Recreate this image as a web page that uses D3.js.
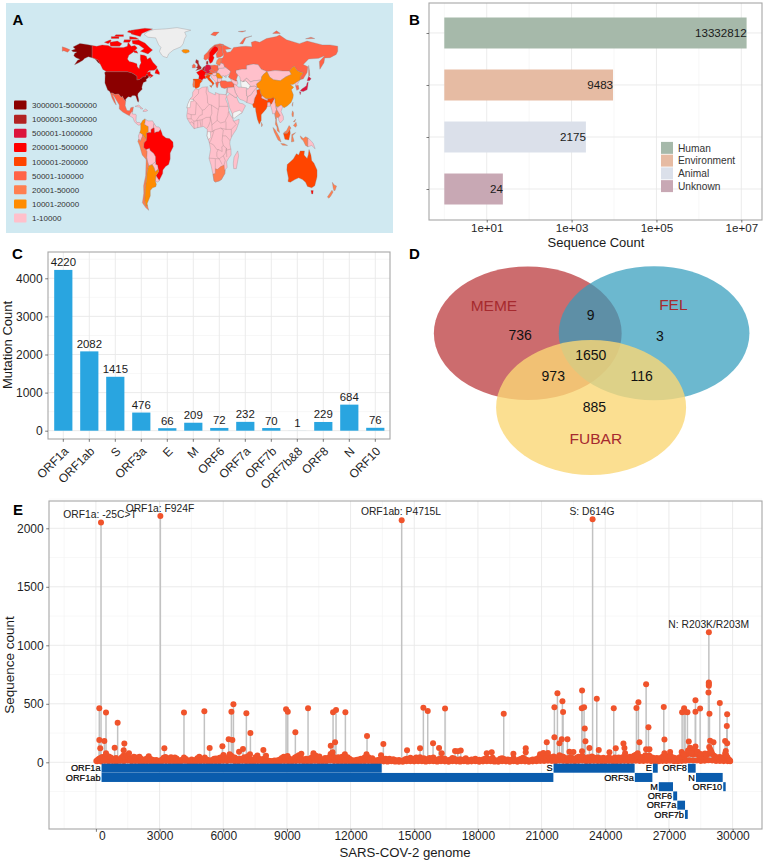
<!DOCTYPE html>
<html><head><meta charset="utf-8">
<script src="https://cdn.jsdelivr.net/npm/d3@7/dist/d3.min.js"></script>
<style>
html,body{margin:0;padding:0;background:#fff}
svg{display:block}
text{font-family:"Liberation Sans",Arial,sans-serif;fill:#1a1a1a}
.domain{display:none}
</style></head><body><svg id="c" width="764" height="861"></svg>
<script>
// ---------- Panel A data ----------
const mapBins = ["3000001-5000000","1000001-3000000","500001-1000000","200001-500000","100001-200000","50001-100000","20001-50000","10001-20000","1-10000"];
const mapColors = ["#8b0000","#b22222","#dc143c","#ff0000","#ff4500","#ff6347","#ff7f50","#ff8c00","#ffc0cb"];
const mapFills = mapColors.concat(["#f4f4f4","#eeeeee"]);
const countries = [
["Greenland",10,"-73,78.2 -68,76 -58,75.5 -54,70 -51,68 -53,65 -50,62 -48,61 -43,60 -41,63 -35,66 -25,68.5 -22,71 -20,75 -18,77 -20,80 -12,81.5 -30,83.5 -45,82.5 -60,82 -68,80.5"],
["Iceland",7,"-24,65.5 -22,64 -18.5,63.4 -14,64.5 -14.5,66 -18,66.4 -22,66.4"],
["Alaska",0,"-141,69.6 -141,60.2 -137,58.9 -133,56 -130,55 -133,58 -137,59.2 -140,59.8 -146,60.8 -151,59.3 -153,58 -158,56.2 -164,54.5 -160,58 -157,58.8 -162,60 -165,61.5 -164,63.2 -161,64.5 -166,64.6 -168,65.6 -163,66.8 -166,68.4 -157,71.2 -148,70.4"],
["Canada",3,"-141,69.6 -135,69 -128,70 -120,69.5 -115,68 -108,68 -100,68 -95,69 -94,72 -90,69 -85,69.5 -82,67.5 -87,64.5 -93,62 -94.8,59 -92.5,57 -88,56.5 -82.5,55.2 -82,52.9 -79.5,51.3 -79,54 -77,56 -78,58.7 -78,62.4 -73,62 -70,61 -69,58.8 -65,60.2 -61.5,56.5 -56,53 -57,51.4 -60,50.2 -66.5,50 -69,48.5 -65,49.2 -64.8,47.5 -61,46 -66,44 -64,46 -67,45 -67.8,45.7 -69.2,47.4 -71.5,45 -75,45 -76.5,44 -79,43 -82.5,42.5 -82.5,45.3 -84.5,46.5 -89,48 -95,49 -123,49 -123,49.5 -127,50.8 -130,54.5 -133,58 -137,59.2 -141,60.2"],
["Baffin",3,"-62,66 -68,63 -73,64 -78,65 -73,67 -80,70 -88,71 -89,73.5 -80,73.8 -72,71.5 -66,68"],
["Ellesmere",3,"-62,82.5 -72,83 -90,81.5 -90,78.5 -78,76.5 -76,79 -66,81.5"],
["Victoria",3,"-117,69 -105,69 -102,71 -108,73 -118,72"],
["Banks",3,"-125,72 -117,74 -116,73 -120,71"],
["Devon",3,"-92,74.5 -80,74.5 -84,75.8 -92,76.5"],
["Axel",3,"-95,80 -88,79 -86,81 -93,81.3"],
["Melville",3,"-116,75 -106,75 -106,76.5 -116,76.5"],
["Bathurst",3,"-110,78 -100,78 -100,76.5 -112,76.5"],
["Somerset",3,"-100,72 -92,72 -90,74 -99,74"],
["Southampton",3,"-86,64 -81,63.5 -83,65.5 -87,65.5"],
["Newfoundland",3,"-59,47.8 -53,46.8 -53,48.5 -56,51.5 -58,50"],
["USA",0,"-124.7,48.4 -123,49 -95,49 -89,48 -84.5,46.5 -82.5,45.3 -82.5,42.5 -79,43 -76.5,44 -75,45 -71.5,45 -69.2,47.4 -67.8,45.7 -67,44.8 -70.5,43 -70,41.7 -74,40.6 -75.5,38 -76,36.8 -75.5,35.3 -78,33.9 -81,32 -81.4,30.5 -80,26.8 -80.5,25.2 -81.8,26 -82.8,28 -84,30 -86,30.4 -89,30.2 -90,29.1 -94,29.5 -97.2,27.6 -97.2,26 -99.5,27.5 -101.5,29.8 -103,29 -106.5,31.7 -111,31.3 -114.8,32.5 -117.1,32.5 -118.5,34 -120.6,34.6 -122.5,37.5 -124.3,40.3 -124.2,43 -124,46.3"],
["Mexico",5,"-117.1,32.5 -114.8,32.5 -111,31.3 -106.5,31.7 -103,29 -101.5,29.8 -99.5,27.5 -97.2,26 -97.8,22.5 -95.5,18.8 -92,18.5 -90.5,21 -87,21.5 -88,18 -89,17.8 -91.3,16 -92.2,14.6 -96,15.8 -101,17.5 -105.5,20 -105.5,23 -109,26.5 -112.5,30 -114.7,31.5 -112,28 -109.5,23 -112,25 -115,28.5"],
["CentralAm",8,"-92.2,14.6 -91.3,16 -89,17.8 -88,18 -88.5,16 -84,15.8 -83.3,15 -83.7,11 -82.5,9.3 -79.5,9.5 -77.3,8.6 -78,7.5 -80.5,7.3 -83,8.3 -85.7,10 -87.5,13"],
["Cuba",8,"-85,22 -80,23 -74.5,20 -77.5,19.9 -78,21.2"],
["Hispaniola",8,"-74.4,18.5 -71,19.9 -68.4,18.7 -71,18 -74.4,18"],
["Colombia",7,"-77.3,8.6 -75,11 -72,12.2 -71.3,11 -72.4,8 -70,7 -67.5,6.2 -67.5,2 -70,1 -69.5,-1 -70,-4.2 -72,-2.5 -75,-0.1 -78.8,1.4 -77.5,4 -77.5,7"],
["Venezuela",8,"-72,12.2 -68,10.6 -62,10.7 -60,8.5 -60.7,7 -61,5 -64,4 -64,1.5 -67,1.5 -67.5,2 -67.5,6.2 -70,7 -72.4,8 -71.3,11"],
["Guianas",8,"-60,8.5 -57,6 -54,5.9 -52,4.8 -51.7,4 -54,2.2 -57,2 -59.5,1.3 -60,3 -60,5 -61,5 -60.7,7"],
["Ecuador",8,"-75,-0.1 -78.8,1.4 -80.5,-1 -80,-3.3 -78,-5 -75.3,-1.5"],
["Peru",6,"-75.3,-1.5 -75,-0.1 -72,-2.5 -70,-4.2 -73,-6 -73.5,-9.5 -70.5,-11 -69,-12.5 -69.5,-17.5 -70.4,-18.3 -75.5,-15 -79,-8 -81.3,-5 -80,-3.3 -78,-5"],
["Bolivia",8,"-69,-12.5 -70.5,-11 -66,-10 -65,-11.8 -60.5,-13.8 -58,-16.3 -58,-19.8 -62.5,-22 -67,-23 -68.5,-20 -69.5,-17.5"],
["Brazil",3,"-60,5.3 -59.5,1.3 -57,2 -54,2.2 -51.7,4 -50,1.5 -49,-0.5 -44.5,-2.5 -40,-3 -35.3,-5.5 -35,-9 -39,-13.5 -39,-18 -41,-22 -45,-23.5 -48.5,-26 -48.8,-28.5 -53.4,-33.7 -57.6,-30.2 -54,-27 -54.6,-25.5 -55.8,-22.3 -58,-22 -58,-16.3 -60.5,-13.8 -65,-11.8 -66,-10 -70.5,-11 -73.5,-9.5 -73,-6 -70,-4.2 -69.5,-1 -70,1 -67,1.5 -64,1.5 -64,4 -61,5"],
["Paraguay",8,"-58,-19.8 -58,-22 -55.8,-22.3 -54.6,-25.5 -58.5,-27.2 -60,-24.5 -62.5,-22"],
["Uruguay",8,"-57.6,-30.2 -53.4,-33.7 -55,-34.9 -58.4,-34"],
["Chile",6,"-67,-23 -68.5,-20 -69.5,-17.5 -70.4,-18.3 -71,-30 -73.7,-37.5 -73.5,-43 -75.3,-50 -71,-53.5 -67,-55.5 -68.5,-52.5 -69,-52 -71,-52 -72,-48 -71.5,-40 -70,-33 -69,-27"],
["Argentina",7,"-67,-23 -62.5,-22 -60,-24.5 -58.5,-27.2 -54.6,-25.5 -54,-27 -57.6,-30.2 -58.4,-34 -57,-36.5 -57.8,-38.2 -62,-39 -65,-41 -65,-45 -69,-50.5 -68.5,-52.5 -71,-52 -72,-48 -71.5,-40 -70,-33 -69,-27"],
["Africa",8,"-5.9,35.8 -2,35.1 3,36.9 10,37.3 11,33.5 15,32.3 20,30.9 20,32.8 25,31.6 32,31.2 34.2,31.2 34.8,29.5 33.5,27.8 36,24 37.2,21 37.5,18.5 39.5,15.5 43.3,12 43.3,11.4 44.5,10.4 51.2,12 50.8,9.5 47.5,4 42,-1 39.3,-4.5 39,-6.8 40.5,-11 40.7,-15 37,-17.8 34.8,-20 35.5,-24 32.8,-26 32.5,-28.5 28,-33 25,-34 20,-34.8 18.3,-34 17,-29.5 14.5,-22.5 11.8,-17.5 13.8,-11 12.2,-6 9.2,-1 9.6,3.8 8.5,4.5 4.5,6.3 -4,5.2 -7.7,4.5 -13,8.5 -16.8,12.5 -17.4,14.7 -16.2,19.5 -17,21 -13,27.7 -9.8,30 -9.5,33"],
["WSahara",9,"-13,27.7 -8.7,27.3 -8.7,26 -12,26 -13,21 -17,21 -16.2,23.5"],
["Gabon",9,"9.8,2.3 13.5,2.2 14,-2 11,-3.7 9.2,-1 9.6,0.5"],
["SouthAfrica",6,"17,-29 20,-28.5 20,-25 23,-25.5 27,-23.5 31.5,-22.3 32,-26 32.8,-26 32.5,-28.5 28,-33 25,-34 20,-34.8 18.3,-34"],
["Madagascar",8,"49.3,-12 50.5,-15.5 47.5,-25 44,-25 43.5,-21 44.5,-16.5"],
["Ireland",5,"-10,52 -6,52.2 -6,54 -8,55.3 -10,54"],
["UK",1,"-5.5,50 1.3,51.2 1.7,52.7 0,53.5 -1.5,55 -2,56 -2,57.7 -5,58.6 -6,56.5 -3.2,54.8 -3,53.4 -5,52.5 -3,51.5"],
["Spain",4,"-9,43.3 -1.7,43.4 3.2,42 0,39.8 -0.5,37.8 -2,36.8 -5.5,36 -7.4,37.2 -7,42 -8.5,42"],
["Portugal",6,"-8.7,42 -6.5,41.8 -7,39.5 -7.4,37.2 -9,37 -9.5,38.8"],
["France",3,"-1.7,43.4 3,42.4 4,43.5 7.5,43.8 6.2,46.3 7.5,47.6 8.2,49 6.2,49.5 4.5,50 2.5,51 -1.5,49.6 -4.7,48.4 -1.2,46"],
["Benelux",1,"2.5,51 4.5,50 6.2,49.5 6.2,51.5 7,53.5 4.5,52.8"],
["Germany",2,"6.2,51.5 7,53.5 9,54.8 14,54 15,51 12.2,50.3 13.7,48.7 10,47.4 7.5,47.6 8.2,49 6.2,49.5"],
["Switzerland",5,"6.2,46.3 10,46.5 10,47.4 7.5,47.6"],
["Austria",4,"10,47.4 13.7,48.7 17,48 16,46.8 12,46.8 10,46.5"],
["Italy",4,"7.5,43.8 7,45.8 10,46.5 13.7,46.5 12.3,44.5 16,41.8 18.5,40 16.5,38 15.7,40 11,42.5 9,44.3"],
["Sicily",4,"12.5,38 15.5,38.2 15,36.7"],
["Denmark",1,"8.2,55 10.5,55 10.6,57.5 8.3,57"],
["Norway",5,"5,59 7.5,58 10.5,59.3 11.5,59 12,61 12,64 14,65.5 15.5,67 19,69 25,69 29,69.8 31,70.3 26,71 19,70 13,67 10,64.5 5.5,62"],
["Sweden",3,"11,59 13,55.5 16,56.5 18.5,60 17,61.5 21,64 24,66 23.5,68 20.5,69 19,69 15.5,67 14,65.5 12,64 12,61 11.5,59"],
["Finland",5,"24,66 21,63 22,60 27,60.5 30.5,62 29,66 29,69.5 25,69.5 20.5,69 23.5,68"],
["Baltics",6,"21,55.5 22,57.7 24.5,59.5 28,59.5 27.5,56 26,54 23,54.5"],
["Poland",5,"14,54 19,54.4 23.5,54 24,50.5 22.5,49 19,49.4 15,51"],
["Czechia",5,"12.2,50.3 15,51 19,49.4 22.5,49 22,48.2 17,48 13.7,48.7"],
["Hungary",8,"16,46.8 17,48 22,48.2 21,46.2 18.5,45.8"],
["Balkans",8,"13.7,46.5 16,46.8 18.5,45.8 21,46.2 23,44 22.8,41.3 20.5,40.2 19.3,42 15.5,44"],
["Greece",5,"20.5,40.2 22.8,41.3 26,41 24,40 23.5,38 23,36.5 21.5,37"],
["Romania",7,"21,46.2 22,48.2 25,47.9 28.2,45.5 29.5,45 28.5,43.7 25,43.7 23,44"],
["Bulgaria",8,"23,44 25,43.7 28.5,43.7 28,42 26,41 22.8,41.3"],
["Ukraine",8,"22.5,49 24,50.5 24,51.6 31,52 34,52.3 40,49.5 39,47.5 35,46 33,46 32,45.5 35,45 33.5,44.5 30.7,46 28.2,45.5 25,47.9 22,48.2"],
["Belarus",8,"23.5,54 26,54 27.5,56 31,55 32,53 31,52 24,51.6 24,50.5"],
["Turkey",5,"26,41 28,42 33,42 36,41.2 41.5,41.5 44.5,39.5 44.5,37 36,36.5 32,36 28,36.7 26.5,38.5"],
["Russia",5,"28,59.5 30,60 31,62 29,66 29,69.5 31,70 41,67 33,66.5 35,64 40,64.7 44,68 54,68.7 60,69 68,68.5 67,72 72,73 78,72 87,75 100,76.5 104,77.7 113,74 130,71 140,73 160,70 170,70 180,69 180,65 178,62.5 170,60 163,59.8 162,56 156.7,51 156,57 163,61.5 155,59.5 142,59 135,54.7 141,53 140,48.5 135,43.5 131,42.8 131,45 135,48.3 130.5,48.9 127,50 123,53.4 120,52 117,49.6 108,49.6 98,50 87.5,49.2 80,51 76,54.5 70,55 61,54 61,51 55,51 47,50 47,48.5 49.5,46.5 47.5,43 48.5,41.8 46,41.8 40,43.5 37,45 39,47.5 40,49.5 34,52.3 32,53 31,55 27.5,56"],
["Chukotka",5,"-180,68.5 -175,67.5 -170,66.2 -173,64.3 -178,65.5 -180,65"],
["NovayaZemlya",5,"52,71 56,70.8 60,75.5 68,77 58,75.5"],
["Svalbard",5,"14,78 20,77 25,80 18,80"],
["FranzJosef",5,"50,80.5 55,80 60,81"],
["Severnaya",5,"95,79 105,79 100,81"],
["NewSiberia",5,"138,74.8 150,75 145,76"],
["Sakhalin",5,"142,54 143,50 143.5,46 142,46 142,50"],
["Kazakhstan",8,"47,50 55,51 61,51 61,54 70,55 76,54.5 80,51 87.5,49.2 83,47 80.5,45 80,42.5 70.5,42 66,41 61,44 56,41.3 53,42 52,45 49.5,46.5 47,48.5"],
["Mongolia",8,"87.5,49.2 98,50 108,49.6 117,49.6 119.5,47 112,45 105,42 96,42.7 91,45"],
["China",7,"73.5,39.5 80,42.5 80.5,45 83,47 87.5,49.2 91,45 96,42.7 105,42 112,45 119.5,47 117,49.6 120,52 123,53.4 127,50 130.5,48.9 135,48.3 131,45 131,42.8 128,41.5 124.3,40 121.5,39 118,39 122.5,37 119.5,35 122,31 121.5,28.5 119,25 114,22.3 110,21 108,21.6 106,23 102,21.5 99,22 98,25 98,28 92,28 86,28 81,30.3 79,32.5 78,35.5 74.5,37"],
["NKorea",8,"124.3,40 128,41.5 130.5,42.5 127.5,39.5 125,38"],
["SKorea",5,"125,38 128.5,38.5 129.4,35.5 126.5,34.5"],
["Honshu",2,"131,34 135,33.6 140,35 141,38 141.5,41 140,40.5 139,38 136.5,37 133,35.5"],
["Hokkaido",2,"140,42 142,45.5 145.3,43.5 143,42"],
["Kyushu",2,"130,33.5 132,33 131,31"],
["Taiwan",6,"120.2,23 121.6,25.2 121,22"],
["India",4,"68.5,23.5 70.5,25 71,28 74.5,32 74,34.5 78,35.5 79,32.5 81,30.3 80.5,28.5 88,26.5 88.5,28 92,28 96,29 97,27.5 94,24 92,23 91.5,25 88.5,25 88,22 86.5,20 80,15.5 80,11 77.5,8 75,12 73,18 72.5,21 70,21"],
["Pakistan",8,"61,25 62,29.5 66.5,31 70,34 74,37 74,34.5 74.5,32 71,28 70.5,25 68.5,23.5"],
["Afghanistan",8,"61,30 60.5,34.5 65,37.3 71,38 74.5,37 70,34 66.5,31 62,29.5"],
["Iran",8,"44.5,39.5 48,38.5 50,37 54,37 61,36.5 60.5,34.5 61,30 62,29.5 61,25 57,26.5 52,27.5 49,30 46,33 44.5,37"],
["Turkmenistan",9,"53,42 56,41.3 60,42 66,38 63,35.5 61,36.5 54,37"],
["Uzbekistan",8,"56,41.3 61,44 66,41 70.5,42 80,42.5 73.5,39.5 74.5,37 71,38 65,37.3 66,38 60,42"],
["Caucasus",8,"40,43.5 46,41.8 48.5,41.8 49.5,40 48,38.5 44.5,39.5 41.5,41.5"],
["Saudi",8,"34.8,29.5 39,32 46,29 48,29 50,26 51.5,24.5 56,24 59.5,22.5 55,17 52,16 43,13 42,16.5 38.5,21 37,25"],
["Yemen",9,"43,13 45,12.8 52,16 55,17 52,19 45,17.5 42.8,16.5"],
["Iraq",8,"36,36.5 44.5,37 46,33 49,30 48,29 46,29 39,32 35.8,33"],
["Levant",8,"34.2,31.2 35.8,33 36,36.5 35,36"],
["Myanmar",8,"92,23 94,24 97,27.5 98,28 98,25 99,22 101,21 100,19.5 98,16 99,12 97.5,16.5 95,16 94,19"],
["Bangladesh",8,"88.5,25 91.5,25 92,23 91.5,22 89,22 88,22"],
["Nepal",8,"81,30.3 86,28 88,27.5 88,26.5 80.5,28.5"],
["SriLanka",6,"80,9.5 81.8,7.5 80.5,6"],
["Thailand",6,"99,22 100,20 102,18 105,15 102.5,13 100,13.5 100,10 102,6 100,6.5 98.5,8 99,12 98,16 100,19.5"],
["Indochina",8,"102,21.5 106,23 108,21.6 106,18 109,14 109,11.5 105,9 103,11 102.5,13 105,15 102,18 100,20"],
["Malaya",6,"100.5,6.5 102,6 103.5,3 104,1.5 101,3"],
["Sumatra",6,"95.3,5.5 98,4 104,-2 106,-5.5 102,-4 97,2"],
["Java",6,"105.5,-6.5 110,-6.8 114.5,-8 108,-7.8"],
["Kalimantan",4,"109,1 114,1 117.5,4 118,1 116,-4 111,-3.5"],
["Sarawak",6,"109.5,1.5 114,1 117.5,4 119,5 116.5,7 113,3"],
["Sulawesi",6,"119.5,-5.5 120,0 125,1.5 121,-1 123,-5"],
["Papua",6,"131,-1 135,-3 138,-1.7 141,-2.5 141,-9 138,-8 135,-4.5 132,-3"],
["PNG",8,"141,-2.5 145,-4.5 148,-6.5 150.5,-10.5 146,-8 141,-9"],
["Luzon",6,"120,16 121,18.5 122.3,17 122,14 120.5,14"],
["Mindanao",6,"122,7 125.5,9.5 126.5,7 125,5.7"],
["Visayas",6,"122,10 125,12 124,10"],
["Australia",4,"114,-22 113.5,-26 115.7,-32 115,-34.4 118,-35 124,-33 129,-31.7 134,-33 138,-35 140.5,-38 146,-39 150,-37.5 153,-31 153,-26 149,-21 146,-19 145,-15 142.5,-11 141.5,-15 140,-17.5 136,-15 136.5,-12 131,-12 129,-15 126,-14 122,-18 117,-20.5"],
["Tasmania",3,"145,-41 148,-41 147.5,-43.5 146,-43.5"],
["NZNorth",6,"173,-35 175.5,-37 178.5,-37.7 176.5,-41 175,-41 174,-39"],
["NZSouth",6,"172.5,-40.8 174,-42 171,-45 168.5,-46.6 166.5,-45.8 171,-42"]
];
const africaBorders = [
"-1.7,35 -2,32 -8.7,28 -8.7,27.3","-8.7,27.3 -4.8,25 3,19 3,15.5 0,15 -5.5,10.5","8.5,36.9 8,33 9.5,30 10,24.5 12,23.5 6,19.5 3,19",
"25,31.6 25,22 24,19.5 15,23 12,23.5","25,22 36.8,22","15,23 15.5,16.5 13.5,13.5 15,10 15.5,7.5 22.5,11","24,19.5 22.5,14 22.5,11",
"3,11.7 8,13.3 13.5,13.5","3,11.7 2.7,6.4","13.5,13.5 13.5,10.5 11,6.5 8.6,4.6","-4.8,25 -6,15.5 -11.5,15.5 -16.2,16.5","-11.5,15.5 -11.5,12.2 -8,10.5 -5.5,10.5",
"-11.5,12.2 -16.7,12.4","-8,10.5 -8,7.5 -7.5,4.4","-13,9 -10.5,10 -8,8","-3,11 -3,5.1","0,11 1.2,6.1","-5.5,10.5 -3,11 2.4,11.5 3,11.7",
"15.5,7.5 16,2 13.5,2.2","18.5,3.5 16,-1.5 14,-4.5 12.2,-6","16,2 18.5,3.5 27,5 30.5,3.5","22.5,11 27,9 33,10 34,12 36.5,14.5 37,17.5 38.5,18","27,5 34,4 34,10",
"34,4 41,4 47.5,8 43,11","41,4 41,-1.7","30.5,3.5 29.5,-1 34,-1 39.3,-4.5","29.5,-1 29,-4.5 30.5,-8.2 34.5,-10 33,-13.7 30.5,-15.6","34.5,-11.5 40.5,-10.6",
"12.2,-6 17.5,-7.5 22,-11 24,-11 29,-12.5 28.5,-9 30.5,-8.2","24,-11 22,-13 22,-16.2 25,-17.8 30.5,-15.6 33,-19 31.5,-22.3","11.8,-17.3 25,-17.8","20,-18 20,-25","25.2,-17.8 29,-22","34.5,-10 35,-16.5"
];
// ---------- Panel B data ----------
const hostNames = ["Human","Environment","Animal","Unknown"];
const hostCounts = [13332812,9483,2175,24];
const hostColors = ["#a6b9aa","#e6bba3","#dbe0ea","#c8a8b4"];
const hostTicks = [10,1000,100000,10000000];
const hostTickLabels = ["1e+01","1e+03","1e+05","1e+07"];
const hostMinor = [1,100,10000,1000000];
// ---------- Panel C data ----------
const geneNames = ["ORF1a","ORF1ab","S","ORF3a","E","M","ORF6","ORF7a","ORF7b","ORF7b&8","ORF8","N","ORF10"];
const mutationCounts = [4220,2082,1415,476,66,209,72,232,70,1,229,684,76];
const mutTicks = [0,1000,2000,3000,4000];
const mutMinor = [500,1500,2500,3500,4500];
// ---------- Panel D data ----------
const vennSets = ["MEME","FEL","FUBAR"];
const vennColors = ["#b93336","#339dbd","#fad775"];
const vennLabels = ["736","9","3","1650","973","116","885"];
// ---------- Panel E data ----------
const peaks = [[241,2049],[3037,2106],[14408,2069],[23403,2078],[28881,1111]];
const peakLabels = ["ORF1a: -25C>T","ORF1a: F924F","ORF1ab: P4715L","S: D614G","N: R203K/R203M"];
const midPoints = [[160,462],[476,425],[1025,339],[160,191],[398,182],[205,120],[884,125],[1340,160],[1308,103],[476,77],[1560,77],[3225,120],[4150,425],[5110,436],[5360,122],[5960,137],[6385,433],[6480,496],[6256,197],[6430,191],[6300,68],[6745,91],[6930,114],[7090,419],[7280,251],[7260,68],[7890,105],[8016,57],[8960,453],[9040,433],[9398,256],[9680,74],[9996,462],[10250,77],[11065,142],[11270,171],[11175,427],[11315,447],[11150,85],[11755,427],[11730,68],[12775,225],[12750,68],[13545,157],[13435,60],[14660,103],[15273,120],[15430,467],[15635,439],[15886,162],[16169,122],[16294,77],[16451,459],[16923,97],[17050,95],[17190,100],[18415,77],[18650,85],[19216,416],[19672,74],[20253,120],[20253,85],[20929,68],[21080,80],[21243,171],[21300,80],[21604,470],[21604,214],[21746,590],[21840,162],[21981,521],[22013,430],[21950,197],[22217,197],[22312,90],[22500,88],[22908,613],[22893,462],[23002,470],[23034,288],[23065,180],[22908,94],[23254,122],[23600,544],[23694,105],[24197,85],[24400,462],[24495,120],[24856,160],[24903,122],[24935,77],[25469,465],[25563,513],[25610,171],[25530,77],[25925,667],[26035,299],[25925,111],[26081,111],[26757,473],[26788,194],[26788,77],[27056,88],[27600,88],[27621,427],[27715,462],[27762,433],[27872,427],[27935,177],[27998,125],[28250,530],[28250,433],[28250,134],[28470,459],[28879,681],[28879,670],[28879,655],[28863,596],[28910,416],[28941,185],[29098,171],[29397,507],[29743,410],[29727,311],[29648,182],[29743,162],[29680,97],[28100,95],[28180,110],[28350,90],[28500,70],[28700,75],[28900,130],[28950,110],[29000,90],[29650,75],[29700,60],[27700,70],[27900,100],[28050,80]];
const carpet = [[20,12],[90,22],[150,30],[230,38],[300,45],[370,28],[450,52],[520,35],[610,50],[700,42],[780,18],[860,30],[950,36],[1040,20],[1130,25],[1210,42],[1290,55],[1370,48],[1450,60],[1530,40],[1610,22],[1700,35],[1790,48],[1880,42],[1960,38],[2050,48],[2130,30],[2220,18],[2310,25],[2400,32],[2490,52],[2570,28],[2660,22],[2750,16],[2840,20],[2930,14],[3010,12],[3100,22],[3190,38],[3280,45],[3370,30],[3460,35],[3540,44],[3630,28],[3720,40],[3800,32],[3890,18],[3970,14],[4060,22],[4150,42],[4240,28],[4330,16],[4420,12],[4510,24],[4600,12],[4690,20],[4780,34],[4870,48],[4950,22],[5040,26],[5130,42],[5220,24],[5300,18],[5390,14],[5480,20],[5570,30],[5660,32],[5740,26],[5830,38],[5920,44],[6010,62],[6100,36],[6190,28],[6280,52],[6370,58],[6450,44],[6540,40],[6630,30],[6720,22],[6810,30],[6900,26],[6990,44],[7070,38],[7160,52],[7250,30],[7340,16],[7430,22],[7520,44],[7610,58],[7690,30],[7780,18],[7870,28],[7960,24],[8050,20],[8140,14],[8230,12],[8320,10],[8410,16],[8490,14],[8580,18],[8670,24],[8760,36],[8850,48],[8940,36],[9030,54],[9110,32],[9200,20],[9290,26],[9380,40],[9470,50],[9560,60],[9640,34],[9730,28],[9820,22],[9910,30],[10000,20],[10090,32],[10180,44],[10260,40],[10350,58],[10440,30],[10530,50],[10620,22],[10710,26],[10800,36],[10890,30],[10970,40],[11060,70],[11150,55],[11240,42],[11330,30],[11420,44],[11510,30],[11600,48],[11690,36],[11770,24],[11860,44],[11950,30],[12040,20],[12130,14],[12220,18],[12310,22],[12400,24],[12490,30],[12570,24],[12660,40],[12750,50],[12840,44],[12930,26],[13020,34],[13110,18],[13200,14],[13290,20],[13380,24],[13470,36],[13560,26],[13650,30],[13740,22],[13830,30],[13920,18],[14010,26],[14100,20],[14190,14],[14280,20],[14370,12],[14460,12],[14550,24],[14640,30],[14730,28],[14820,38],[14910,26],[15000,30],[15090,40],[15180,26],[15270,44],[15360,22],[15450,34],[15540,18],[15630,28],[15720,36],[15810,30],[15900,40],[15990,18],[16080,22],[16170,28],[16260,32],[16350,26],[16440,30],[16530,16],[16620,18],[16710,24],[16800,36],[16890,30],[16980,22],[17070,16],[17160,26],[17250,18],[17340,24],[17430,34],[17520,20],[17610,14],[17700,24],[17790,22],[17880,30],[17970,14],[18060,22],[18150,12],[18240,24],[18330,30],[18420,34],[18510,22],[18600,28],[18690,38],[18780,20],[18870,14],[18960,18],[19050,30],[19140,34],[19230,28],[19320,20],[19410,24],[19500,16],[19590,22],[19680,34],[19770,18],[19860,14],[19950,24],[20040,30],[20130,38],[20220,26],[20310,20],[20400,14],[20490,18],[20580,24],[20670,22],[20760,28],[20850,36],[20940,50],[21030,42],[21120,56],[21210,40],[21300,56],[21390,36],[21480,44],[21570,50],[21660,30],[21750,44],[21840,60],[21930,52],[22020,48],[22110,36],[22200,30],[22290,36],[22380,46],[22470,30],[22560,26],[22650,38],[22740,48],[22830,42],[22920,54],[23010,38],[23100,30],[23190,44],[23280,36],[23370,50],[23460,40],[23550,34],[23640,42],[23730,36],[23820,30],[23910,38],[24000,28],[24090,34],[24180,44],[24270,30],[24360,24],[24450,40],[24540,34],[24630,42],[24720,30],[24810,44],[24900,46],[24990,34],[25080,40],[25170,48],[25260,42],[25350,56],[25440,64],[25530,52],[25620,48],[25710,40],[25800,46],[25890,60],[25980,52],[26070,58],[26160,44],[26250,38],[26340,30],[26430,36],[26520,30],[26610,36],[26700,48],[26790,40],[26880,44],[26970,54],[27060,58],[27150,44],[27240,38],[27330,30],[27420,34],[27510,44],[27600,50],[27690,62],[27780,60],[27870,72],[27960,80],[28050,72],[28140,66],[28230,76],[28320,70],[28410,58],[28500,52],[28590,46],[28680,52],[28770,60],[28860,74],[28950,84],[29040,72],[29130,56],[29220,44],[29310,40],[29400,46],[29490,36],[29580,44],[29670,52],[29760,40],[29840,22],[29884,14]];
const carpetBase = [[60,9],[240,7],[420,12],[600,8],[780,10],[960,6],[1140,11],[1320,9],[1500,13],[1680,7],[1860,10],[2040,8],[2220,6],[2400,9],[2580,7],[2760,5],[2940,6],[3120,8],[3300,10],[3480,7],[3660,9],[3840,6],[4020,8],[4200,11],[4380,6],[4560,5],[4740,9],[4920,7],[5100,10],[5280,6],[5460,8],[5640,9],[5820,7],[6000,12],[6180,10],[6360,13],[6540,9],[6720,7],[6900,11],[7080,9],[7260,8],[7440,6],[7620,10],[7800,7],[7980,6],[8160,5],[8340,4],[8520,6],[8700,8],[8880,10],[9060,9],[9240,7],[9420,10],[9600,12],[9780,7],[9960,8],[10140,9],[10320,11],[10500,8],[10680,7],[10860,9],[11040,13],[11220,10],[11400,8],[11580,9],[11760,7],[11940,8],[12120,5],[12300,6],[12480,8],[12660,9],[12840,10],[13020,7],[13200,5],[13380,8],[13560,7],[13740,6],[13920,8],[14100,6],[14280,5],[14460,5],[14640,8],[14820,9],[15000,7],[15180,9],[15360,8],[15540,6],[15720,9],[15900,8],[16080,6],[16260,9],[16440,7],[16620,5],[16800,8],[16980,7],[17160,6],[17340,8],[17520,6],[17700,7],[17880,8],[18060,5],[18240,7],[18420,9],[18600,8],[18780,6],[18960,5],[19140,9],[19320,7],[19500,5],[19680,8],[19860,5],[20040,8],[20220,7],[20400,5],[20580,7],[20760,8],[20940,11],[21120,12],[21300,13],[21480,11],[21660,9],[21840,13],[22020,12],[22200,9],[22380,11],[22560,8],[22740,12],[22920,13],[23100,9],[23280,10],[23460,11],[23640,10],[23820,8],[24000,9],[24180,11],[24360,7],[24540,9],[24720,10],[24900,12],[25080,10],[25260,11],[25440,14],[25620,11],[25800,12],[25980,13],[26160,10],[26340,8],[26520,8],[26700,11],[26880,11],[27060,13],[27240,9],[27420,9],[27600,12],[27780,14],[27960,18],[28140,16],[28320,16],[28500,12],[28680,13],[28860,18],[29040,16],[29220,11],[29400,11],[29580,10],[29760,10],[29880,8]];
const genomeFeatures = [["ORF1a",1,266,13468],["ORF1ab",2,266,21555],["S",1,21563,25384],["ORF3a",2,25393,26220],["E",1,26245,26472],["M",3,26523,27191],["ORF6",4,27202,27387],["ORF7a",5,27394,27759],["ORF7b",6,27756,27887],["ORF8",1,27894,28259],["N",2,28274,29533],["ORF10",3,29558,29674]];
const genomeTicks = [0,3000,6000,9000,12000,15000,18000,21000,24000,27000,30000];
const genomeMinor = [-1500,1500,4500,7500,10500,13500,16500,19500,22500,25500,28500];
const seqTicks = [0,500,1000,1500,2000];
const seqMinor = [-250,250,750,1250,1750,2250];
const panelLetters = [["A",12.5,25],["B",409,25],["C",12,259],["D",409,259],["E",13,515]];

const svg = d3.select("#c");
const border="#a6a6a6", grid="#e9e9e9", gridMinor="#f2f2f2";
function frame(g,x0,x1,y0,y1){ g.append("rect").attr("x",x0).attr("y",y0).attr("width",x1-x0).attr("height",y1-y0).attr("fill","none").attr("stroke",border).attr("stroke-width",1.1); }
function gridV(g,vals,sc,y0,y1,col,w){ g.selectAll(null).data(vals).join("line").attr("x1",sc).attr("x2",sc).attr("y1",y0).attr("y2",y1).attr("stroke",col).attr("stroke-width",w); }
function gridH(g,vals,sc,x0,x1,col,w){ g.selectAll(null).data(vals).join("line").attr("y1",sc).attr("y2",sc).attr("x1",x0).attr("x2",x1).attr("stroke",col).attr("stroke-width",w); }
function styleAxis(a,fs){ a.selectAll("text").attr("font-size",fs).style("fill","#1f1f1f"); a.selectAll(".tick line").attr("stroke","#444").attr("stroke-width",.7); }

// ---- A: map
(function(){
 const g=svg.append("g");
 g.append("rect").attr("x",6).attr("y",3).attr("width",387).attr("height",230).attr("fill","#d0e9f1");
 const lon=d3.scaleLinear().domain([-180,180]).range([62.3,337.7]);
 const lat=d3.scaleLinear().domain([-56,0,84]).range([211,134.5,27]);
 const parse=s=>s.split(" ").map(p=>p.split(",").map(Number));
 const line=d3.line().x(d=>lon(d[0])).y(d=>lat(d[1]));
 g.selectAll("path.c").data(countries).join("path").attr("class","c")
  .attr("d",d=>line(parse(d[2]))+"Z").attr("fill",d=>mapFills[d[1]]).attr("stroke","#8a7a7a").attr("stroke-width",.3).attr("stroke-linejoin","round");
 g.selectAll("path.b").data(africaBorders).join("path").attr("class","b")
  .attr("d",d=>line(parse(d))).attr("fill","none").attr("stroke","#8a7a7a").attr("stroke-width",.3);
 const ly=d3.scalePoint().domain(mapBins).range([105,218]);
 const lg=g.selectAll("g.l").data(mapBins).join("g").attr("class","l");
 lg.append("rect").attr("x",14).attr("width",12.5).attr("height",9).attr("y",d=>ly(d)-4.5).attr("rx",1).attr("fill",(d,i)=>mapColors[i]);
 lg.append("text").attr("x",32).attr("y",d=>ly(d)+3).attr("font-size",8).style("fill","#333").text(d=>d);
})();

// ---- B: hosts
(function(){
 const g=svg.append("g");
 const x0=429,x1=762,y0=3,y1=220;
 const x=d3.scaleLog().domain([1,1e7]).range([444.3,741.3]);
 const y=d3.scaleBand().domain(hostNames).range([17.5,204.5]).paddingInner(0.404).paddingOuter(0);
 const cy=d=>y(d)+y.bandwidth()/2;
 gridV(g,hostMinor,x,y0,y1,gridMinor,.6); gridV(g,hostTicks,x,y0,y1,grid,.9); gridH(g,hostNames,cy,x0,x1,grid,.9);
 g.selectAll("rect.b").data(hostNames).join("rect").attr("class","b").attr("x",x(1)).attr("y",d=>y(d)).attr("height",y.bandwidth())
  .attr("width",(d,i)=>x(hostCounts[i])-x(1)).attr("fill",(d,i)=>hostColors[i]);
 g.selectAll("text.v").data(hostNames).join("text").attr("class","v").attr("text-anchor","end").attr("x",(d,i)=>x(hostCounts[i])).attr("y",d=>cy(d)+4.2)
  .attr("font-size",11.6).text((d,i)=>hostCounts[i]);
 frame(g,x0,x1,y0,y1);
 const ax=g.append("g").attr("transform",`translate(0,${y1})`).call(d3.axisBottom(x).tickValues(hostTicks).tickFormat((d,i)=>hostTickLabels[i]).tickSize(2.5).tickPadding(1.2));
 styleAxis(ax,11.6);
 const ay=d3.axisLeft(d3.scalePoint().domain(hostNames).range([cy(hostNames[0]),cy(hostNames[3])])).tickSize(2.5).tickFormat("");
 styleAxis(g.append("g").attr("transform",`translate(${x0},0)`).call(ay),10);
 g.append("text").attr("x",596).attr("y",247).attr("text-anchor","middle").attr("font-size",13).text("Sequence Count");
 const ly=d3.scaleBand().domain(hostNames).range([141.5,192.5]);
 g.selectAll("rect.l").data(hostNames).join("rect").attr("class","l").attr("x",661).attr("width",12).attr("y",d=>ly(d)+.4).attr("height",ly.bandwidth()-.8).attr("fill",(d,i)=>hostColors[i]);
 g.selectAll("text.l").data(hostNames).join("text").attr("class","l").attr("x",678).attr("y",d=>ly(d)+10).attr("font-size",10.2).style("fill","#333").text(d=>d);
})();

// ---- C: mutations
(function(){
 const g=svg.append("g");
 const x0=48,x1=390,y0=252,y1=439;
 const step=26;
 const x=d3.scaleBand().domain(geneNames).range([63.3-step/2,375.3+step/2]).paddingInner(.3).paddingOuter(.15);
 const cx=d=>x(d)+x.bandwidth()/2;
 const y=d3.scaleLinear().domain([0,4000]).range([430.7,278.3]);
 gridH(g,mutMinor,y,x0,x1,gridMinor,.6); gridH(g,mutTicks,y,x0,x1,grid,.9); gridV(g,geneNames,cx,y0,y1,grid,.9);
 g.selectAll("rect.b").data(geneNames).join("rect").attr("class","b").attr("x",d=>x(d)).attr("width",x.bandwidth()).attr("y",(d,i)=>y(mutationCounts[i])).attr("height",(d,i)=>y(0)-y(mutationCounts[i])).attr("fill","#29a5e0");
 g.selectAll("text.v").data(geneNames).join("text").attr("class","v").attr("text-anchor","middle").attr("x",cx).attr("y",(d,i)=>y(mutationCounts[i])-3.5).attr("font-size",11.4).text((d,i)=>mutationCounts[i]);
 frame(g,x0,x1,y0,y1);
 styleAxis(g.append("g").attr("transform",`translate(${x0},0)`).call(d3.axisLeft(y).tickValues(mutTicks).tickFormat(d3.format("d")).tickSize(2.8).tickPadding(2.5)),12);
 const ax=g.append("g").attr("transform",`translate(0,${y1})`).call(d3.axisBottom(x).tickSize(2.8));
 styleAxis(ax,12);
 ax.selectAll("text").attr("text-anchor","end").attr("y",0).attr("dy",0).attr("transform","translate(6,13) rotate(-45)");
 g.append("text").attr("transform","translate(12,345) rotate(-90)").attr("text-anchor","middle").attr("font-size",13).text("Mutation Count");
})();

// ---- D: venn
(function(){
 const g=svg.append("g");
 const vx=d3.scaleLinear().domain([0,100]).range([400,764]);
 const vy=d3.scaleLinear().domain([0,100]).range([240,490]);
 const ellipses=[[35.1,37.3,25.8,26.7],[69.8,37.3,26.2,26.8],[52.5,67.0,26.1,27.0]];
 g.selectAll("ellipse").data(ellipses).join("ellipse").attr("cx",d=>vx(d[0])).attr("cy",d=>vy(d[1])).attr("rx",d=>vx(d[2])-vx(0)).attr("ry",d=>vy(d[3])-vy(0))
  .attr("fill",(d,i)=>vennColors[i]).attr("fill-opacity",(d,i)=>i==2?.8:.72);
 const setPos=[[25.8,26],[75.1,25.8],[53.8,79.2]];
 g.selectAll("text.s").data(vennSets).join("text").attr("class","s").attr("text-anchor","middle").attr("x",(d,i)=>vx(setPos[i][0])).attr("y",(d,i)=>vy(setPos[i][1])+5.5).attr("font-size",15.5).style("fill","#a62a2f").text(d=>d);
 const numPos=[[33,38],[52.4,30.1],[71.4,38.3],[52.4,45.9],[42.1,54.4],[66.4,54.4],[53.4,66.7]];
 g.selectAll("text.n").data(vennLabels).join("text").attr("class","n").attr("text-anchor","middle").attr("x",(d,i)=>vx(numPos[i][0])).attr("y",(d,i)=>vy(numPos[i][1])+5).attr("font-size",14).style("fill","#111").text(d=>d);
})();

// ---- E: lollipop
(function(){
 const g=svg.append("g");
 const x0=49,x1=762,y0=501,y1=829;
 const x=d3.scaleLinear().domain([0,30000]).range([95.9,732.6]);
 const y=d3.scaleLinear().domain([0,2000]).range([762.3,528.3]);
 gridV(g,genomeMinor,x,y0,y1,gridMinor,.6); gridH(g,seqMinor,y,x0,x1,gridMinor,.6);
 gridV(g,genomeTicks,x,y0,y1,grid,.9); gridH(g,seqTicks,y,x0,x1,grid,.9);
 const all=carpetBase.concat(carpet).concat(midPoints).concat(peaks);
 const stems=midPoints.concat(peaks);
 g.selectAll("line.s").data(stems).join("line").attr("class","s").attr("x1",d=>x(d[0])).attr("x2",d=>x(d[0])).attr("y1",y(0)).attr("y2",d=>y(d[1])).attr("stroke","#c2c2c2").attr("stroke-width",1.5);
 g.selectAll("circle").data(all).join("circle").attr("cx",d=>x(d[0])).attr("cy",d=>y(d[1])).attr("r",3).attr("fill","#f0532b");
 const rowTop=r=>-12-79*(r-1), rowBot=r=>-12-79*(r-1)-77;
 g.selectAll("rect.g").data(genomeFeatures).join("rect").attr("class","g").attr("x",d=>x(d[2])).attr("width",d=>Math.max(x(d[3])-x(d[2]),1)).attr("y",d=>y(rowTop(d[1]))).attr("height",d=>y(rowBot(d[1]))-y(rowTop(d[1]))).attr("fill","#0a5cad");
 g.selectAll("text.g").data(genomeFeatures).join("text").attr("class","g").attr("text-anchor","end").attr("x",d=>x(d[2])-1).attr("y",d=>y(rowTop(d[1]))+7.6).attr("font-size",9.2).style("stroke","#000").style("stroke-width",.2).style("fill","#000").text(d=>d[0]);
 frame(g,x0,x1,y0,y1);
 const peakX=[100,160,401,592,708.7], peakY=[518,512,515,515,628];
 g.selectAll("text.p").data(peakLabels).join("text").attr("class","p").attr("text-anchor","middle").attr("x",(d,i)=>peakX[i]).attr("y",(d,i)=>peakY[i]).attr("font-size",10.3).style("fill","#222").text(d=>d);
 styleAxis(g.append("g").attr("transform",`translate(${x0},0)`).call(d3.axisLeft(y).tickValues(seqTicks).tickFormat(d3.format("d")).tickSize(2.8).tickPadding(2.5)),12);
 const ax=g.append("g").attr("transform",`translate(0,${y1})`).call(d3.axisBottom(x).tickValues(genomeTicks).tickFormat(d3.format("d")).tickSize(2.8).tickPadding(0));
 styleAxis(ax,12);
 ax.selectAll("text").filter(d=>d===0).attr("dx",6);
 g.append("text").attr("x",405).attr("y",857).attr("text-anchor","middle").attr("font-size",13.2).text("SARS-COV-2 genome");
 g.append("text").attr("transform","translate(13.5,665) rotate(-90)").attr("text-anchor","middle").attr("font-size",13.5).text("Sequence count");
})();

svg.selectAll("text.letter").data(panelLetters).join("text").attr("class","letter").attr("x",d=>d[1]).attr("y",d=>d[2]).attr("font-size",15).attr("font-weight","bold").style("fill","#000").text(d=>d[0]);
</script></body></html>
